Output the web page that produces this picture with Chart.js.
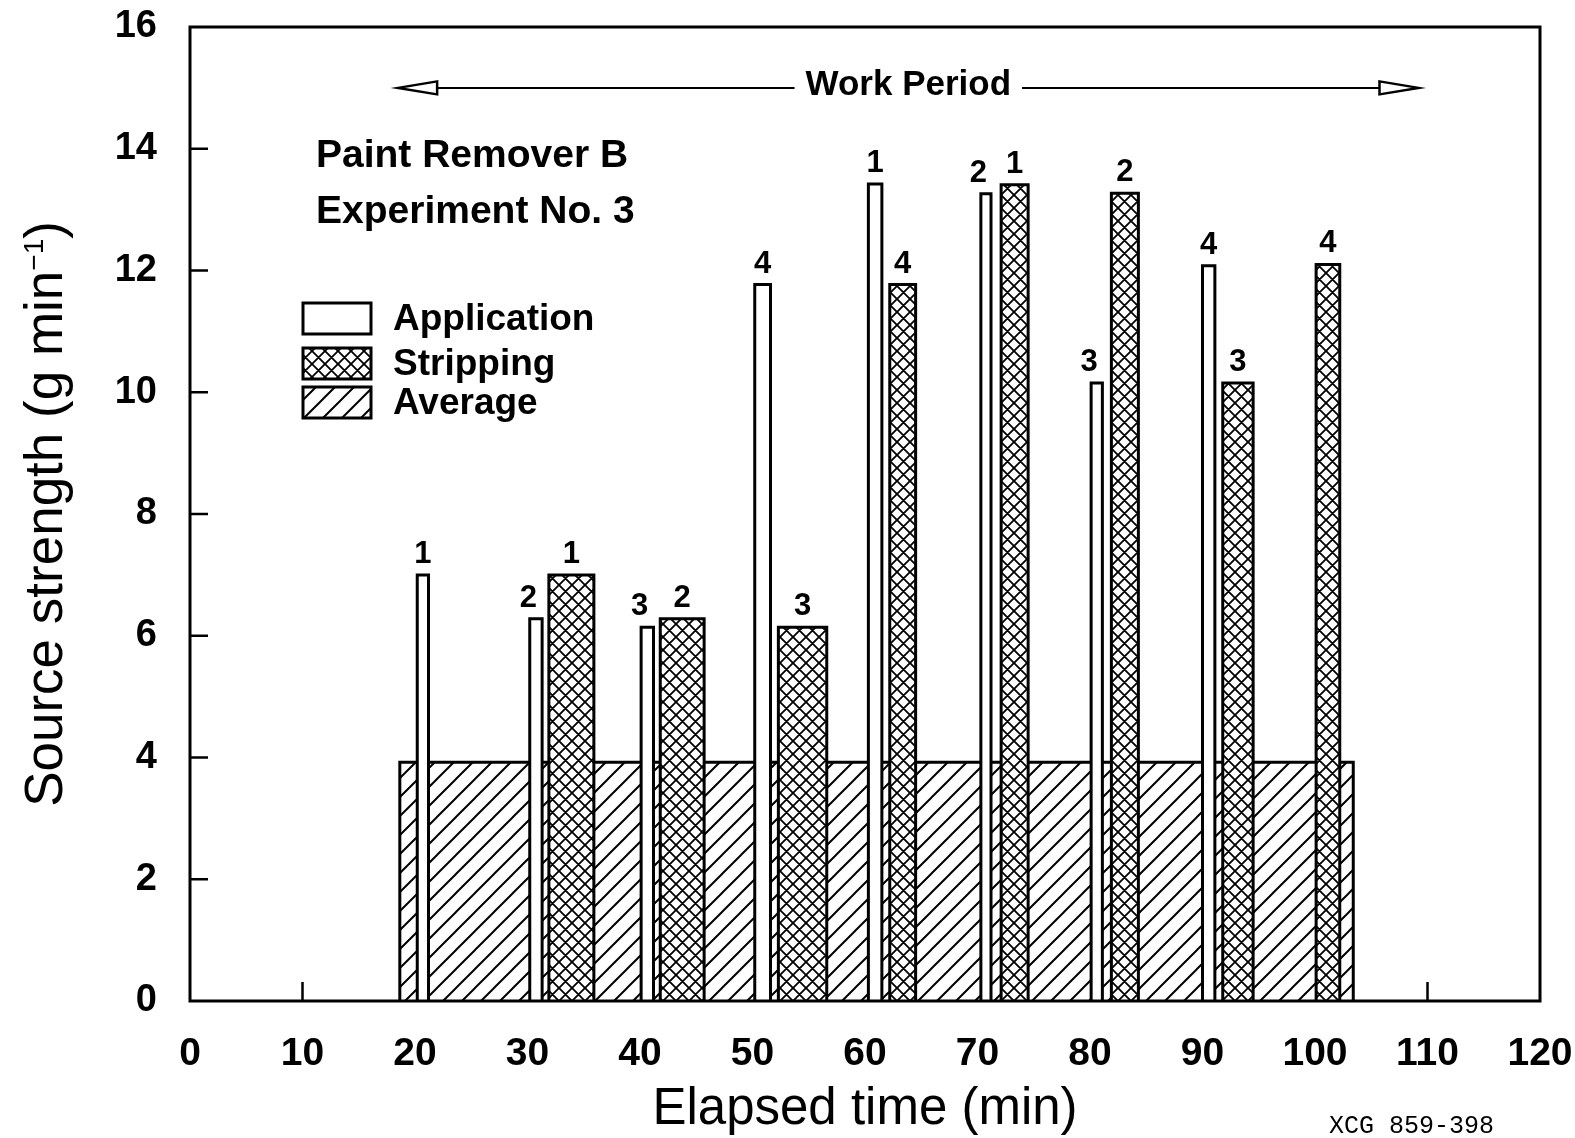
<!DOCTYPE html>
<html>
<head>
<meta charset="utf-8">
<script src="https://cdn.jsdelivr.net/npm/chart.js@4.4.1/dist/chart.umd.min.js"></script>
<style>
  html, body { margin: 0; padding: 0; background: #fff; }
</style>
</head>
<body>
<canvas id="chart" width="1575" height="1138"></canvas>
<script>
// sample numbers written above the bars
const appLabels = ["1", "2", "3", "4", "1", "2", "3", "4"];
const stripLabels = ["1", "2", "3", "4", "1", "2", "3", "4"];

// application periods (min) and source strength (g/min)
const appStart = [20.2, 30.2, 40.1, 50.2, 60.3, 70.3, 80.1, 90.0];
const appEnd = [21.2, 31.3, 41.2, 51.6, 61.5, 71.2, 81.1, 91.1];
const appValues = [7.0, 6.28, 6.14, 11.77, 13.42, 13.26, 10.15, 12.08];

// stripping periods
const stripStart = [31.9, 41.8, 52.3, 62.2, 72.1, 81.9, 91.8, 100.1];
const stripEnd = [35.9, 45.7, 56.6, 64.5, 74.5, 84.3, 94.5, 102.2];
const stripValues = [7.0, 6.28, 6.14, 11.77, 13.41, 13.27, 10.15, 12.1];

// average over the whole run
const avgStart = [18.65];
const avgEnd = [103.4];
const avgValues = [3.92];

// work period arrow
const workStart = 18.5;
const workEnd = 109.2;
const workLevel = 15;

const xTicks = [0, 10, 20, 30, 40, 50, 60, 70, 80, 90, 100, 110, 120];
const yTicks = [0, 2, 4, 6, 8, 10, 12, 14, 16];

const SANS = '"Liberation Sans", Arial, sans-serif';
Chart.defaults.font.family = SANS;
Chart.defaults.color = "#000";

const canvas = document.getElementById("chart");
const ctx = canvas.getContext("2d");

function makePattern(size, cross, width) {
  const c = document.createElement("canvas");
  c.width = size;
  c.height = size;
  const g = c.getContext("2d");
  g.fillStyle = "#fff";
  g.fillRect(0, 0, size, size);
  g.strokeStyle = "#000";
  g.lineWidth = width;
  g.beginPath();
  g.moveTo(-2, size + 2); g.lineTo(size + 2, -2);
  g.moveTo(-2, 2); g.lineTo(2, -2);
  g.moveTo(size - 2, size + 2); g.lineTo(size + 2, size - 2);
  if (cross) {
    g.moveTo(-2, -2); g.lineTo(size + 2, size + 2);
    g.moveTo(size - 2, -2); g.lineTo(size + 2, 2);
    g.moveTo(-2, size - 2); g.lineTo(2, size + 2);
  }
  g.stroke();
  return ctx.createPattern(c, "repeat");
}

const hatch = makePattern(19, false, 2);
const crossHatch = makePattern(13, true, 1.8);

function rect(x0, x1, h) {
  return [
    { x: x0, y: 0 },
    { x: x0, y: h },
    { x: x1, y: h },
    { x: x1, y: 0 },
  ];
}

function barSets(starts, ends, values, fill, order) {
  return values.map((v, i) => ({
    data: rect(starts[i], ends[i], v),
    backgroundColor: fill,
    borderColor: "#000",
    borderWidth: 3,
    borderJoinStyle: "miter",
    pointRadius: 0,
    tension: 0,
    fill: "origin",
    order,
  }));
}

const datasets = [
  ...barSets(avgStart, avgEnd, avgValues, hatch, 2),
  ...barSets(appStart, appEnd, appValues, "#fff", 1),
  ...barSets(stripStart, stripEnd, stripValues, crossHatch, 1),
];

function drawArrowHead(c, tipX, y, dir) {
  const len = 39;
  const half = 6.5;
  c.beginPath();
  c.moveTo(tipX, y);
  c.lineTo(tipX - dir * len, y - half);
  c.lineTo(tipX - dir * len, y + half);
  c.closePath();
  c.fillStyle = "#fff";
  c.fill();
  c.lineWidth = 2.5;
  c.stroke();
}

function noPadding(s) {
  s.paddingTop = 0;
  s.paddingBottom = 0;
  s.paddingLeft = 0;
  s.paddingRight = 0;
}

const innerTicks = {
  id: "innerTicks",
  beforeDatasetsDraw(chart) {
    const c = chart.ctx;
    const x = chart.scales.x;
    const y = chart.scales.y;
    const a = chart.chartArea;
    c.save();
    c.strokeStyle = "#000";
    c.lineWidth = 2.5;
    c.beginPath();
    xTicks.slice(1, -1).forEach((t) => {
      const px = x.getPixelForValue(t);
      c.moveTo(px, a.bottom);
      c.lineTo(px, a.bottom - 19);
    });
    yTicks.slice(1, -1).forEach((t) => {
      const py = y.getPixelForValue(t);
      c.moveTo(a.left, py);
      c.lineTo(a.left + 18, py);
    });
    c.stroke();
    c.restore();
  },
};

const annotations = {
  id: "annotations",
  afterDraw(chart) {
    const c = chart.ctx;
    const x = chart.scales.x;
    const y = chart.scales.y;
    const a = chart.chartArea;
    c.save();
    c.strokeStyle = "#000";
    c.fillStyle = "#000";

    // frame
    c.lineWidth = 3;
    c.strokeRect(a.left, a.top, a.right - a.left, a.bottom - a.top);

    // numbers over the bars
    c.font = "bold 31px " + SANS;
    c.textBaseline = "alphabetic";
    appValues.forEach((v, i) => {
      const mid = x.getPixelForValue((appStart[i] + appEnd[i]) / 2);
      const next = stripStart.findIndex((s) => s > appEnd[i] && s - appEnd[i] < 1);
      const crowded = next >= 0 && stripValues[next] > v;
      c.textAlign = crowded ? "right" : "center";
      c.fillText(appLabels[i], crowded ? mid + 1 : mid, y.getPixelForValue(v) - 12);
    });
    c.textAlign = "center";
    stripValues.forEach((v, i) => {
      const mid = x.getPixelForValue((stripStart[i] + stripEnd[i]) / 2);
      c.fillText(stripLabels[i], mid, y.getPixelForValue(v) - 12);
    });

    // work period
    const wy = y.getPixelForValue(workLevel);
    const wl = x.getPixelForValue(workStart);
    const wr = x.getPixelForValue(workEnd);
    c.font = "bold 35px " + SANS;
    c.textAlign = "center";
    c.textBaseline = "middle";
    const tx = (wl + wr) / 2;
    c.fillText("Work Period", tx, wy - 3);
    const half = c.measureText("Work Period").width / 2 + 11;
    c.lineWidth = 2;
    c.beginPath();
    c.moveTo(wl + 39, wy);
    c.lineTo(tx - half, wy);
    c.moveTo(tx + half, wy);
    c.lineTo(wr - 39, wy);
    c.stroke();
    drawArrowHead(c, wl, wy, -1);
    drawArrowHead(c, wr, wy, 1);

    // headings
    c.fillStyle = "#000";
    c.font = "bold 39px " + SANS;
    c.textAlign = "left";
    c.textBaseline = "alphabetic";
    c.fillText("Paint Remover B", a.left + 126, 167);
    c.fillText("Experiment No. 3", a.left + 126, 223);

    // legend
    const items = [
      ["Application", "#fff", 303],
      ["Stripping", crossHatch, 348],
      ["Average", hatch, 387],
    ];
    c.font = "bold 37px " + SANS;
    c.textBaseline = "middle";
    items.forEach(([name, fill, top]) => {
      c.fillStyle = fill;
      c.fillRect(a.left + 113, top, 68, 31);
      c.lineWidth = 3;
      c.strokeRect(a.left + 113, top, 68, 31);
      c.fillStyle = "#000";
      c.fillText(name, a.left + 203, top + 17);
    });

    // axis titles
    c.textBaseline = "alphabetic";
    c.textAlign = "center";
    c.font = "51px " + SANS;
    c.fillText("Elapsed time (min)", (a.left + a.right) / 2, 1124);

    c.save();
    c.translate(62, (a.top + a.bottom) / 2);
    c.rotate(-Math.PI / 2);
    const big = "53px " + SANS;
    const small = "28px " + SANS;
    c.font = big;
    const w1 = c.measureText("Source strength (g min").width;
    const w3 = c.measureText(")").width;
    c.font = small;
    const w2 = c.measureText("\u22121").width;
    let sx = -(w1 + w2 + w3) / 2;
    c.textAlign = "left";
    c.font = big;
    c.fillText("Source strength (g min", sx, 0);
    c.font = small;
    c.fillText("\u22121", sx + w1, -19);
    c.font = big;
    c.fillText(")", sx + w1 + w2, 0);
    c.restore();

    c.font = '25px "Liberation Mono", "Courier New", monospace';
    c.textAlign = "left";
    c.fillText("XCG 859-398", 1329, 1133);
    c.restore();
  },
};

new Chart(ctx, {
  type: "line",
  data: { datasets },
  options: {
    responsive: false,
    animation: false,
    events: [],
    layout: { padding: { left: 0, right: 35, top: 27, bottom: 0 } },
    plugins: {
      legend: { display: false },
      tooltip: { enabled: false },
    },
    scales: {
      x: {
        type: "linear",
        min: 0,
        max: 120,
        grid: { display: false, drawTicks: false },
        border: { display: false },
        ticks: {
          stepSize: 10,
          padding: 30,
          color: "#000",
          font: { size: 39, weight: "bold" },
          maxRotation: 0,
        },
        afterFit: (s) => { s.height = 137; noPadding(s); },
      },
      y: {
        min: 0,
        max: 16,
        grid: { display: false, drawTicks: false },
        border: { display: false },
        ticks: {
          stepSize: 2,
          padding: 33,
          color: "#000",
          font: { size: 38, weight: "bold" },
        },
        afterFit: (s) => { s.width = 190; noPadding(s); },
      },
    },
  },
  plugins: [innerTicks, annotations],
});
</script>
</body>
</html>
